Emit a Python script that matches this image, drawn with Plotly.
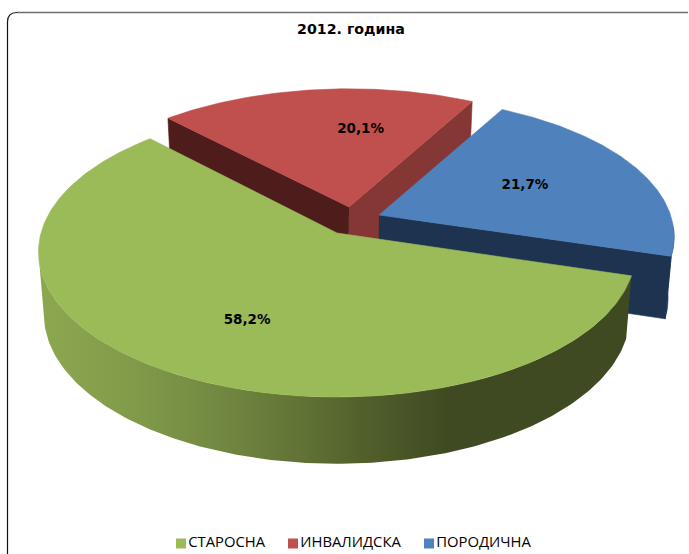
import numpy as np
import plotly.graph_objects as go

# ---- data ----
CATEGORIES = ["СТАРОСНА", "ИНВАЛИДСКА", "ПОРОДИЧНА"]
VALUES = [58.2, 20.1, 21.7]
COLORS = ["#9BBB59", "#C0504D", "#4F81BD"]
TITLE = "2012. година"

# ---- drawing style / geometry ----
W, H = 689, 554
START_DEG = -16.8            # slices run clockwise from here
K = [0.13, 0.155, 0.155]     # perspective of the pie disc, per slice
A = [142.7, 138.6, 138.6]
B = 296
APEX = [(337, 233), (349, 207), (379, 215)]
SCALE = [1.0, 0.985, 0.985]
DEPTH_VX, DEPTH_Q = 337, 0.982
LABEL_POLAR = [(243.7, 0.635), (86, 0.626), (23.5, 0.565)]
LEGEND_X = [181, 293, 429]
LEGEND_Y = 543.5
WALL_GRAD_X = (40, 640)
WALL_STOPS = [(40, "rgb(141,167,80)"), (130, "rgb(130,155,74)"), (220, "rgb(114,136,65)"),
              (300, "rgb(97,115,53)"), (350, "rgb(84,100,45)"), (400, "rgb(73,86,39)"),
              (450, "rgb(63,74,34)"), (640, "rgb(63,74,34)")]
RED_WALL_L, RED_WALL_R, BLUE_WALL = "#4E1D1B", "#843735", "#1D334F"


def project(deg, r, i):
    t = np.radians(deg)
    x, y = r * np.cos(t), r * np.sin(t)
    s = 1 / (1 + K[i] * y)
    return APEX[i][0] + SCALE[i] * B * x * s, APEX[i][1] - SCALE[i] * A[i] * y * s


def drop(px, py):
    px, py = np.asarray(px, float), np.asarray(py, float)
    return DEPTH_VX + (px - DEPTH_VX) * DEPTH_Q, py + 62.5 + 0.03 * (py - 256)


def poly(xs, ys, color, lw=0.6):
    return go.Scatter(x=list(xs), y=list(ys), mode="lines", fill="toself", fillcolor=color,
                      line=dict(color=color, width=lw), hoverinfo="skip", showlegend=False)


total = sum(VALUES)
ends = START_DEG - np.cumsum([0] + [v / total * 360 for v in VALUES])
spans = [(ends[i], ends[i + 1]) for i in range(3)]


def arc(i, n=160):
    a = np.linspace(spans[i][0], spans[i][1], n)
    return a, *project(a, 1.0, i)


traces = []

# red slice
a, x, y = arc(1)
ax, ay = APEX[1]
bx, by = drop([ax, x[0], x[-1]], [ay, y[0], y[-1]])
traces.append(poly([ax, x[-1], bx[2], bx[0]], [ay, y[-1], by[2], by[0]], RED_WALL_R))
traces.append(poly([ax, x[0], bx[1], bx[0]], [ay, y[0], by[1], by[0]], RED_WALL_L))
traces.append(poly([ax, *x, ax], [ay, *y, ay], COLORS[1]))

# blue slice
a, x, y = arc(2)
ax, ay = APEX[2]
bx, by = drop([ax, *x], [ay, *y])
traces.append(poly([ax, x[-1], bx[-1], bx[0]], [ay, y[-1], by[-1], by[0]], BLUE_WALL))
k = len(x) - 25
traces.append(poly([*x[k:], *bx[1:][k:][::-1]], [*y[k:], *by[1:][k:][::-1]], BLUE_WALL))
traces.append(poly([ax, *x, ax], [ay, *y, ay], COLORS[2]))

# green slice: outer wall (front-facing part only) with a horizontal gradient, then the top
a, x, y = arc(0, 241)
ax, ay = APEX[0]
bx, by = drop(x, y)
f = int(np.argmin(x)) + 1
span = WALL_GRAD_X[1] - WALL_GRAD_X[0]
traces.append(go.Scatter(
    x=[*x[:f], *bx[:f][::-1]], y=[*y[:f], *by[:f][::-1]], mode="lines", fill="toself",
    line=dict(width=0), hoverinfo="skip", showlegend=False,
    fillgradient=dict(type="horizontal", start=WALL_GRAD_X[0], stop=WALL_GRAD_X[1],
                      colorscale=[[(p - WALL_GRAD_X[0]) / span, c] for p, c in WALL_STOPS])))
traces.append(poly([ax, *x, ax], [ay, *y, ay], COLORS[0]))

# data labels
lab = [project(LABEL_POLAR[i][0], LABEL_POLAR[i][1], i) for i in range(3)]
traces.append(go.Scatter(x=[p[0] for p in lab], y=[p[1] for p in lab], mode="text",
                         text=[f"{v:.1f}%".replace(".", ",") for v in VALUES],
                         textposition="middle center", hoverinfo="skip", showlegend=False,
                         textfont=dict(family="DejaVu Sans", size=13.5, color="#000000", weight="bold")))

# legend
traces.append(go.Scatter(x=LEGEND_X, y=[LEGEND_Y] * 3, mode="markers+text", text=CATEGORIES,
                         textposition="middle right", hoverinfo="skip", showlegend=False,
                         marker=dict(symbol="square", size=10, color=COLORS),
                         textfont=dict(family="Open Sans", size=14.8, color="#000000")))

fig = go.Figure(traces)
fig.update_layout(
    width=W, height=H, margin=dict(l=0, r=0, t=0, b=0), autosize=False,
    paper_bgcolor="white", plot_bgcolor="white",
    xaxis=dict(range=[0, W], visible=False, fixedrange=True),
    yaxis=dict(range=[H, 0], visible=False, fixedrange=True),
    title=dict(text=TITLE, x=351 / W, y=1 - 29 / H, xanchor="center", yanchor="middle",
               font=dict(family="DejaVu Sans", size=14.2, color="#000000", weight="bold")),
    shapes=[
        dict(type="path", path="M 7.5,554 L 7.5,22 Q 7.5,12.5 17,12.5", layer="below",
             line=dict(color="#111111", width=1.2)),
        dict(type="line", x0=17, y0=12.5, x1=688, y1=12.5, layer="below",
             line=dict(color="#6E6E6E", width=1.4)),
    ],
)
fig.write_html("out.html", config={"displayModeBar": False},
               post_script="document.body.style.margin='0';document.documentElement.style.overflow='hidden';")
